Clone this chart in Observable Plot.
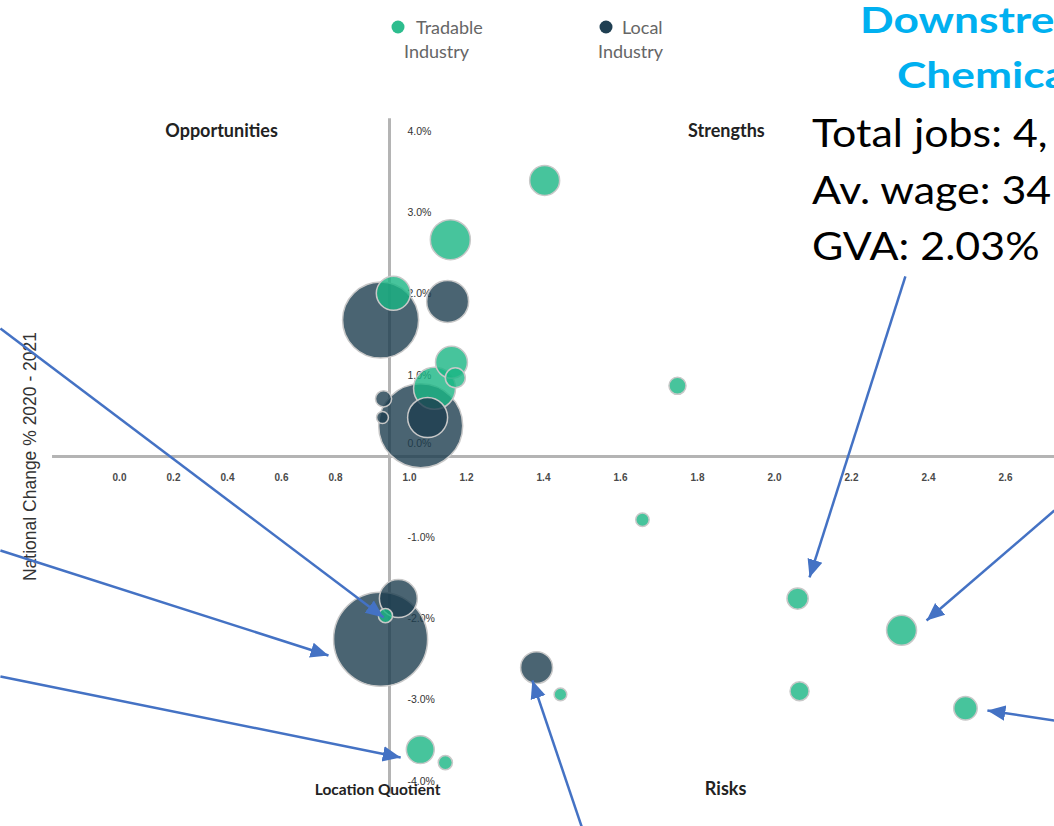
<!DOCTYPE html>
<html>
<head>
<meta charset="utf-8">
<script src="https://cdn.jsdelivr.net/npm/d3@7"></script>
<script src="https://cdn.jsdelivr.net/npm/@observablehq/plot@0.6"></script>
<style>
  html, body { margin: 0; padding: 0; background: #fff; overflow: hidden; }
  #wrap { position: relative; width: 1054px; height: 826px; overflow: hidden; }
  #wrap > svg { position: absolute; left: 0; top: 0; }
</style>
</head>
<body>
<div id="wrap"></div>
<script>
// ---- data ----
const seriesNames = ["Tradable Industry", "Local Industry"];
const seriesColors = ["#19b583", "#1d3d4f"];

const tradableLQ     = [1.403, 1.158, 1.010, 1.161, 1.171, 1.117, 1.748, 1.657, 2.060, 2.330, 2.065, 2.496, 1.444, 1.080, 1.145, 0.985];
const tradableChange = [3.40, 2.67, 2.01, 1.16, 0.97, 0.84, 0.87, -0.78, -1.75, -2.14, -2.89, -3.10, -2.93, -3.61, -3.77, -1.96];
const tradableJobs   = [9000, 16000, 11600, 10200, 4000, 17600, 2900, 1800, 4500, 9000, 3600, 5500, 1600, 7800, 2000, 2000];

const localLQ     = [1.151, 0.967, 0.978, 0.974, 1.099, 1.081, 1.023, 0.967, 1.382];
const localChange = [1.91, 1.68, 0.71, 0.48, 0.48, 0.38, -1.75, -2.25, -2.60];
const localJobs   = [17600, 57800, 2600, 1400, 16000, 70600, 14400, 88400, 10200];

const xTicks = [0, 0.2, 0.4, 0.6, 0.8, 1.0, 1.2, 1.4, 1.6, 1.8, 2.0, 2.2, 2.4, 2.6];
const yTicks = [-4, -3, -2, -1, 0, 1, 2, 3, 4];

const quadrantNames = ["Opportunities", "Strengths", "Risks"];
const quadrantLQ    = [0.378, 1.875, 1.873];
const quadrantChg   = [4.0, 4.0, -4.10];

const xTitle = "Location Quotient";
const yTitle = "National Change % 2020 - 2021";

// annotation arrows (tail -> head), in data units
const arrowFromLQ  = [-0.441, -0.441, -0.441, 2.340, 2.727, 2.727, 1.499];
const arrowFromChg = [1.576, -1.158, -2.709, 2.217, -0.665, -3.251, -4.557];
const arrowToLQ    = [0.978, 0.774, 1.029, 2.091, 2.395, 2.553, 1.371];
const arrowToChg   = [-1.983, -2.451, -3.707, -1.490, -2.020, -3.128, -2.759];

const calloutTitle = ["Downstream", "Chemicals"];
const calloutLines = ["Total jobs: 4,", "Av. wage: 34", "GVA: 2.03%"];

// ---- build tables ----
const bubbles = [
  ...tradableLQ.map((x, i) => ({x, y: tradableChange[i], jobs: tradableJobs[i], type: seriesNames[0]})),
  ...localLQ.map((x, i) => ({x, y: localChange[i], jobs: localJobs[i], type: seriesNames[1]}))
].sort((a, b) => b.jobs - a.jobs);

const arrows = arrowFromLQ.map((x1, i) => ({x1, y1: arrowFromChg[i], x2: arrowToLQ[i], y2: arrowToChg[i]}));
const quadrants = quadrantNames.map((t, i) => ({t, x: quadrantLQ[i], y: quadrantChg[i]}));

const tickFont = "'Liberation Sans', Arial, sans-serif";
const labelFont = "Lato, 'Open Sans', sans-serif";

// the axis below LQ = 1 is drawn compressed (270 px per unit vs 385 above)
const lqWarp = d => (d < 1 ? 1 - (1 - d) * 270 / 385 : d);

const plot = Plot.plot({
  width: 1054,
  height: 826,
  marginTop: 0, marginRight: 0, marginBottom: 0, marginLeft: 0,
  x: {transform: lqWarp, domain: [1 - 389 / 385, 1 + 665 / 385], axis: null},
  y: {domain: [-4.557, 5.616], axis: null},
  r: {type: "sqrt", domain: [0, 92160], range: [0, 48]},
  color: {domain: seriesNames, range: seriesColors},
  style: {background: "#fff", overflow: "visible"},
  marks: [
    Plot.ruleY([0], {x1: -0.248, x2: 2.7273, stroke: "#b4b4b4", strokeWidth: 3}),
    Plot.ruleX([1], {y1: -4.16, y2: 4.16, stroke: "#b4b4b4", strokeWidth: 3}),
    Plot.text(xTicks.filter(d => d !== 1), {x: d => d, y: 0, dy: 21, text: d => d.toFixed(1),
      fontSize: 10, fontWeight: "bold", fill: "#4a4a4a", fontFamily: tickFont}),
    Plot.text([1], {x: d => d, y: 0, dy: 21, dx: 20, text: d => d.toFixed(1),
      fontSize: 10, fontWeight: "bold", fill: "#4a4a4a", fontFamily: tickFont}),
    Plot.text(yTicks.filter(d => d !== 0), {x: 1, y: d => d, dx: 18, textAnchor: "start",
      text: d => d.toFixed(1) + "%", fontSize: 10.5, fill: "#333", fontFamily: tickFont}),
    Plot.text([0], {x: 1, y: d => d, dx: 18, dy: -13, textAnchor: "start",
      text: d => d.toFixed(1) + "%", fontSize: 10.5, fill: "#333", fontFamily: tickFont}),
    Plot.dot(bubbles, {x: "x", y: "y", r: "jobs", fill: "type", fillOpacity: 0.8,
      stroke: "#c8c8c8", strokeWidth: 1.5, sort: null}),
    Plot.text(quadrants, {x: "x", y: "y", text: "t", fontSize: 18, fontWeight: "bold",
      fill: "#222", fontFamily: labelFont}),
    Plot.text([xTitle], {x: 0.956, y: -4.11, text: d => d, fontSize: 15.5, fontWeight: "bold",
      fill: "#222", fontFamily: labelFont}),
    Plot.text([yTitle], {x: -0.33, y: 0, rotate: -90, text: d => d, fontSize: 17.5,
      fill: "#333", fontFamily: tickFont}),
    Plot.link(arrows, {x1: "x1", y1: "y1", x2: "x2", y2: "y2", stroke: "#4472c4",
      strokeWidth: 2.5, markerEnd: "arrow"})
  ]
});

// filled triangular arrowheads
plot.querySelectorAll("marker").forEach(m => {
  m.setAttribute("viewBox", "-10 -5 11 10");
  m.setAttribute("markerWidth", 7.9);
  m.setAttribute("markerHeight", 7.2);
  m.setAttribute("fill", "#4472c4");
  m.setAttribute("stroke", "none");
  while (m.firstChild) m.removeChild(m.firstChild);
  const p = document.createElementNS("http://www.w3.org/2000/svg", "path");
  p.setAttribute("d", "M-10,-4.3L0,0L-10,4.3Z");
  m.appendChild(p);
});

const wrap = document.getElementById("wrap");
wrap.appendChild(plot);

// overlay: legend and callout text
const ov = d3.select(wrap).append("svg")
  .attr("width", 1054).attr("height", 826)
  .style("pointer-events", "none");

const legendItems = [
  {cx: 398, color: "#2dbd8e", l1: "Tradable", l1x: 416, l2: "Industry", l2x: 404},
  {cx: 606, color: "#1f3f52", l1: "Local", l1x: 622, l2: "Industry", l2x: 598}
];
legendItems.forEach(it => {
  ov.append("circle").attr("cx", it.cx).attr("cy", 27).attr("r", 6.5).attr("fill", it.color);
  ov.append("text").attr("x", it.l1x).attr("y", 34).text(it.l1)
    .attr("font-family", labelFont).attr("font-size", 18).attr("fill", "#666");
  ov.append("text").attr("x", it.l2x).attr("y", 58).text(it.l2)
    .attr("font-family", labelFont).attr("font-size", 18).attr("fill", "#666");
});

const sx = 1.23;
ov.append("text").attr("transform", `translate(860,33) scale(${sx},1)`).text(calloutTitle[0])
  .attr("font-family", labelFont).attr("font-weight", "bold").attr("font-size", 36).attr("fill", "#00b0f0");
ov.append("text").attr("transform", `translate(897,88) scale(${sx},1)`).text(calloutTitle[1])
  .attr("font-family", labelFont).attr("font-weight", "bold").attr("font-size", 36).attr("fill", "#00b0f0");
calloutLines.forEach((t, i) => {
  ov.append("text").attr("transform", `translate(812,${147 + i * 56.5}) scale(1.13,1)`).text(t)
    .attr("font-family", labelFont).attr("font-size", 38).attr("fill", "#000");
});
</script>
</body>
</html>
